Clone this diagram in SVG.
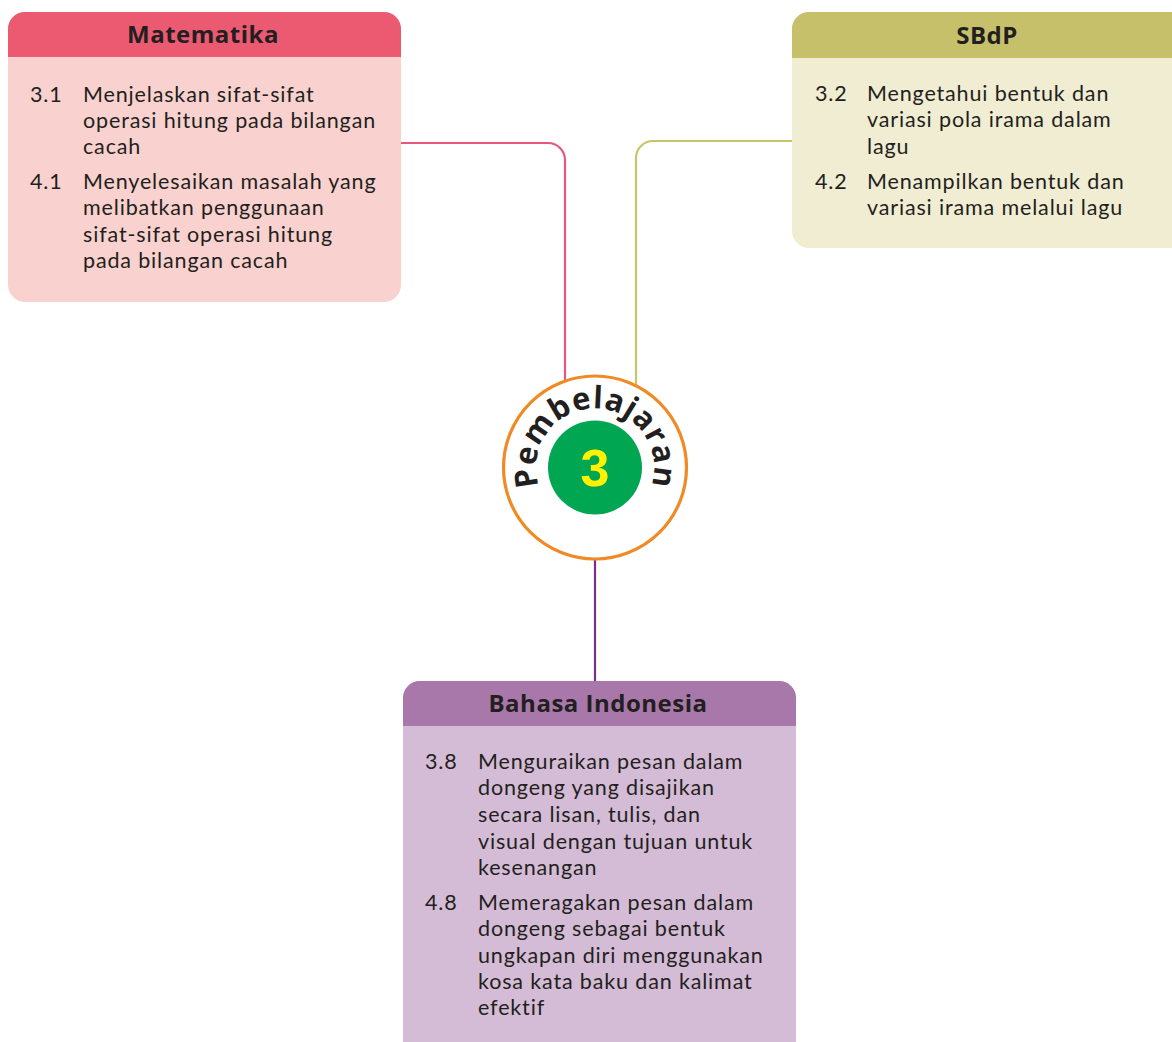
<svg xmlns="http://www.w3.org/2000/svg" width="1172" height="1042" viewBox="0 0 1172 1042">
<style>
.t{font-family:Lato,"Open Sans","Liberation Sans",sans-serif;font-size:21.5px;letter-spacing:0.85px;fill:#231F20}
.h{font-family:"Open Sans","Liberation Sans",sans-serif;font-size:24px;letter-spacing:0.5px;font-weight:bold;fill:#231F20;text-anchor:middle}
.c{fill:none;stroke-width:2.2}
</style>
<defs>
<path id="arc" d="M 565.5 518.6 A 59 59 0 1 1 624.5 518.6"/>
</defs>
<rect width="1172" height="1042" fill="#ffffff"/>
<g id="connectors">
<path class="c" stroke="#E8587A" d="M401 143 H548 A17 17 0 0 1 565 160 V383"/>
<path class="c" stroke="#C8C46A" d="M792 141 H653 A17 17 0 0 0 636 158 V385"/>
<path class="c" stroke="#7B2D8B" d="M595 559 V681"/>
</g>
<g id="matematika">
<rect x="8" y="12" width="393" height="290" rx="17" fill="#F9D2CF"/>
<path d="M8 57 V29 A17 17 0 0 1 25 12 H384 A17 17 0 0 1 401 29 V57 Z" fill="#EC5A72"/>
<text class="h" x="203" y="43">Matematika</text>
<text class="t" x="30" y="102">3.1</text>
<text class="t" x="83" y="102">Menjelaskan sifat-sifat</text>
<text class="t" x="83" y="128">operasi hitung pada bilangan</text>
<text class="t" x="83" y="154">cacah</text>
<text class="t" x="30" y="189">4.1</text>
<text class="t" x="83" y="189">Menyelesaikan masalah yang</text>
<text class="t" x="83" y="215">melibatkan penggunaan</text>
<text class="t" x="83" y="242">sifat-sifat operasi hitung</text>
<text class="t" x="83" y="268">pada bilangan cacah</text>
</g>
<g id="sbdp">
<rect x="792" y="12" width="400" height="236" rx="17" fill="#F0EDD3"/>
<path d="M792 58 V29 A17 17 0 0 1 809 12 H1192 V58 Z" fill="#C7C06A"/>
<text class="h" x="987" y="44">SBdP</text>
<text class="t" x="815" y="101">3.2</text>
<text class="t" x="867" y="101">Mengetahui bentuk dan</text>
<text class="t" x="867" y="127">variasi pola irama dalam</text>
<text class="t" x="867" y="154">lagu</text>
<text class="t" x="815" y="189">4.2</text>
<text class="t" x="867" y="189">Menampilkan bentuk dan</text>
<text class="t" x="867" y="215">variasi irama melalui lagu</text>
</g>
<g id="pembelajaran">
<circle cx="595" cy="467.5" r="91.5" fill="#ffffff" stroke="#F08A24" stroke-width="3.2"/>
<circle cx="595" cy="467.5" r="47" fill="#00A651"/>
<text x="595" y="486" font-family="Liberation Sans,Arial,sans-serif" font-weight="bold" font-size="52" fill="#FFF200" text-anchor="middle">3</text>
<text font-family="Open Sans,Liberation Sans,sans-serif" font-weight="bold" font-size="31" fill="#231F20" letter-spacing="0.6"><textPath href="#arc" startOffset="50%" text-anchor="middle">Pembelajaran</textPath></text>
</g>
<g id="bahasa">
<rect x="403" y="681" width="393" height="380" rx="17" fill="#D5BCD6"/>
<path d="M403 726 V698 A17 17 0 0 1 420 681 H779 A17 17 0 0 1 796 698 V726 Z" fill="#A878AA"/>
<text class="h" x="598" y="712">Bahasa Indonesia</text>
<text class="t" x="425" y="769">3.8</text>
<text class="t" x="478" y="769">Menguraikan pesan dalam</text>
<text class="t" x="478" y="795">dongeng yang disajikan</text>
<text class="t" x="478" y="822">secara lisan, tulis, dan</text>
<text class="t" x="478" y="849">visual dengan tujuan untuk</text>
<text class="t" x="478" y="875">kesenangan</text>
<text class="t" x="425" y="910">4.8</text>
<text class="t" x="478" y="910">Memeragakan pesan dalam</text>
<text class="t" x="478" y="936">dongeng sebagai bentuk</text>
<text class="t" x="478" y="963">ungkapan diri menggunakan</text>
<text class="t" x="478" y="989">kosa kata baku dan kalimat</text>
<text class="t" x="478" y="1015">efektif</text>
</g>
</svg>
